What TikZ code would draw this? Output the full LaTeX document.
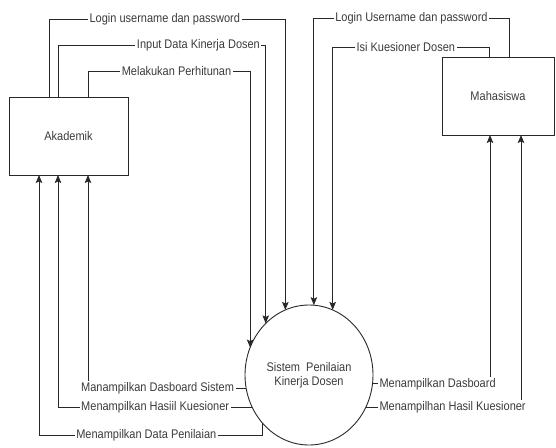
\documentclass[tikz,border=0pt]{standalone}
\usepackage{fontspec}
\setmainfont{Liberation Sans}[FakeStretch=0.88]
\usepackage{xcolor}
\usepackage{tikz}
\usetikzlibrary{arrows.meta,shapes.geometric}
\definecolor{dfdgray}{RGB}{40,40,40}
\definecolor{dfdtext}{RGB}{60,60,60}

\begin{document}
\begin{tikzpicture}[x=1pt,y=-1pt,font=\fontsize{12.5}{14}\selectfont,
    entitas/.style={draw=dfdgray, line width=0.9pt, rectangle, minimum width=119pt, minimum height=78pt, inner sep=0pt, outer sep=0pt, text=dfdtext},
    proses/.style={draw=dfdgray, line width=0.9pt, ellipse, minimum width=128pt, minimum height=140pt, inner sep=0pt, outer sep=0pt, align=center, text=dfdtext},
    alir/.style={draw=dfdgray, line width=0.9pt, -{Stealth[length=8pt,width=6.5pt,inset=1.5pt]}},
    ket/.style={fill=white, inner sep=1.5pt, text=dfdtext}]
    \useasboundingbox (0,0) rectangle (556,447);
    % entitas dan proses
    \node[entitas] (akad) at (68.5,136) {Akademik};
    \node[entitas, minimum width=112pt] (maha) at (498,96) {Mahasiswa};
    \node[proses] (sistem) at (309,375) {Sistem\ \ Penilaian\\Kinerja Dosen};
    % aliran masuk ke sistem
    \draw[alir] ([xshift=40pt]akad.north west) -- ++(0,-78) -| (sistem.110)
      node[ket, pos=0.245] (k1) {Login username dan password};
    \draw[alir] ([xshift=49pt]akad.north west) -- ++(0,-52) -| (sistem.130)
      node[ket, pos=0.338] (k2) {Input Data Kinerja Dosen};
    \draw[alir] ([xshift=79pt]akad.north west) -- ++(0,-26) -| (sistem.155)
      node[ket, pos=0.273] (k3) {Melakukan Perhitunan};
    \draw[alir] ([xshift=67pt]maha.north west) -- ++(0,-39) -| (sistem.86)
      node[ket, pos=0.25] (k4) {Login Username dan password};
    \draw[alir] ([xshift=47pt]maha.north west) -- ++(0,-10) -| (sistem.70)
      node[ket, pos=0.266] (k5) {Isi Kuesioner Dosen};
    % aliran keluar dari sistem
    \draw[alir] (sistem.192) -| ([xshift=79pt]akad.south west)
      node[ket, pos=0.28] (k6) {Manampilkan Dasboard Sistem};
    \draw[alir] (sistem.210) -| ([xshift=49pt]akad.south west)
      node[ket, pos=0.25] (k7) {Menampilkan Hasiil Kuesioner};
    \draw[alir] (sistem.226) -- ++(0,12) -| ([xshift=30pt]akad.south west)
      node[ket, pos=0.26] (k8) {Menampilkan Data Penilaian};
    \draw[alir] (sistem.352) -| ([xshift=48pt]maha.south west)
      node[ket, pos=0.277] (k9) {Menampilkan Dasboard};
    \draw[alir] (sistem.330) -| ([xshift=79pt]maha.south west)
      node[ket, pos=0.28] (k10) {Menampilhan Hasil Kuesioner};
\end{tikzpicture}
\end{document}
